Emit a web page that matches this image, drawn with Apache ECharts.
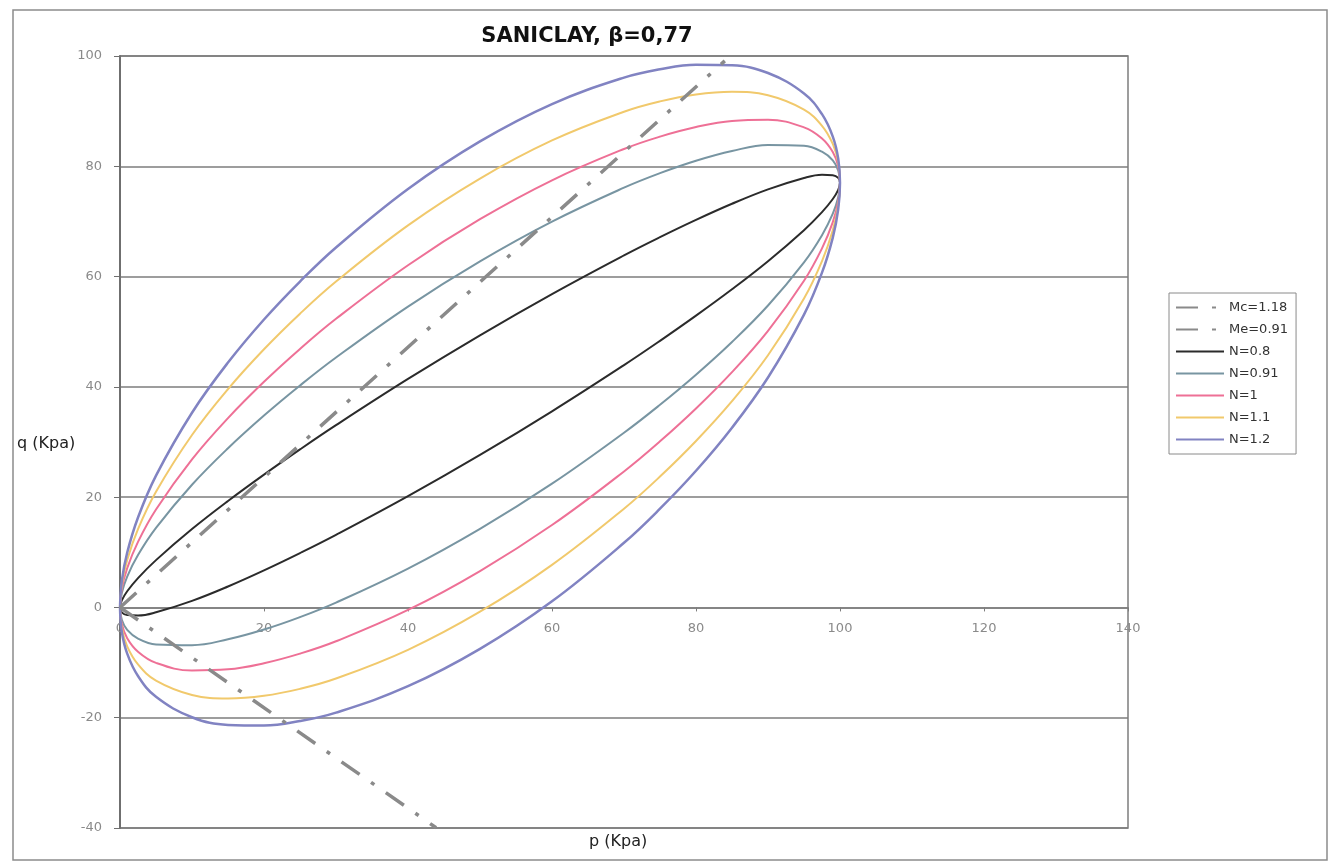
<!DOCTYPE html>
<html>
<head>
<meta charset="utf-8">
<title>SANICLAY yield surfaces</title>
<script src="https://cdn.jsdelivr.net/npm/echarts@6/dist/echarts.min.js"></script>
<style>
  html, body { margin: 0; padding: 0; background: #ffffff; }
  #chart { width: 1340px; height: 864px; }
</style>
</head>
<body>
<div id="chart"></div>
<script>
// Mean effective stress p (kPa) at which each yield surface is sampled
const pressure = [0, 0.25, 1, 2.5, 5, 10, 15, 20, 25, 30, 40, 50, 60, 70, 75, 80, 85, 90, 95, 97.5, 99, 99.75, 100];

// Deviatoric stress q (kPa): upper and lower branches of each surface
const upperN08  = [0, 1.27, 2.93, 5.32, 8.58, 14.21, 19.30, 24.08, 28.65, 33.05, 41.43, 49.35, 56.83, 63.85, 67.15, 70.28, 73.20, 75.81, 77.88, 78.47, 78.39, 77.89, 77];
const lowerN08  = [0, -0.89, -1.39, -1.46, -0.88, 1.19, 3.80, 6.72, 9.85, 13.15, 20.17, 27.65, 35.57, 43.95, 48.35, 52.92, 57.70, 62.79, 68.42, 71.69, 74.07, 75.73, 77];
const upperN091 = [0, 2.61, 5.60, 9.50, 14.42, 22.25, 28.87, 34.80, 40.25, 45.32, 54.56, 62.75, 69.96, 76.12, 78.75, 81.00, 82.77, 83.85, 83.72, 82.65, 81.06, 79.23, 77];
const lowerN091 = [0, -2.23, -4.06, -5.64, -6.72, -6.85, -5.77, -4.00, -1.75, 0.88, 7.04, 14.25, 22.44, 31.68, 36.75, 42.20, 48.13, 54.75, 62.58, 67.51, 71.40, 74.39, 77];
const upperN1   = [0, 3.38, 7.12, 11.89, 17.76, 26.84, 34.33, 40.92, 46.88, 52.34, 62.06, 70.40, 77.46, 83.14, 85.38, 87.12, 88.23, 88.44, 87.06, 85.04, 82.58, 80.00, 77];
const lowerN1   = [0, -3.00, -5.58, -8.03, -10.06, -11.44, -11.23, -10.12, -8.38, -6.14, -0.46, 6.60, 14.94, 24.66, 30.12, 36.08, 42.67, 50.16, 59.24, 65.12, 69.88, 73.62, 77];
const upperN11  = [0, 4.11, 8.59, 14.19, 20.97, 31.27, 39.60, 46.82, 53.27, 59.10, 69.29, 77.78, 84.69, 89.90, 91.77, 93.02, 93.50, 92.87, 90.27, 87.34, 84.05, 80.73, 77];
const lowerN11  = [0, -3.73, -7.05, -10.33, -13.27, -15.87, -16.50, -16.02, -14.77, -12.90, -7.69, -0.78, 7.71, 17.90, 23.73, 30.18, 37.40, 45.73, 56.03, 62.82, 68.41, 72.89, 77];
const upperN12  = [0, 4.79, 9.93, 16.30, 23.91, 35.31, 44.41, 52.22, 59.10, 65.28, 75.89, 84.52, 91.29, 96.08, 97.60, 98.42, 98.31, 96.91, 93.21, 89.45, 85.39, 81.41, 77];
const lowerN12  = [0, -4.41, -8.39, -12.44, -16.21, -19.91, -21.31, -21.42, -20.60, -19.08, -14.29, -7.52, 1.11, 11.72, 17.90, 24.78, 32.59, 41.69, 53.09, 60.71, 67.07, 72.21, 77];

// Critical state lines in compression and extension: [p, q] end points
const lineMc = [[0, 0], [84, 99.12]];
const lineMe = [[0, 0], [43.9, -39.95]];

// Axis ticks
const pTicks = [0, 20, 40, 60, 80, 100, 120, 140];
const qTicks = [-40, -20, 0, 20, 40, 60, 80, 100];

const surfaceNames  = ['N=0.8', 'N=0.91', 'N=1', 'N=1.1', 'N=1.2'];
const surfaceUpper  = [upperN08, upperN091, upperN1, upperN11, upperN12];
const surfaceLower  = [lowerN08, lowerN091, lowerN1, lowerN11, lowerN12];
const surfaceColors = ['#2b2b2b', '#7895a2', '#ee7096', '#f1c96c', '#8183c2'];
const surfaceWidths = [2, 2, 2, 2, 2.5];

// Closed loop: along the upper branch to p0, then back along the lower branch
function loop(upper, lower) {
  const pts = pressure.map((p, i) => [p, upper[i]]);
  for (let i = pressure.length - 2; i >= 0; i--) pts.push([pressure[i], lower[i]]);
  return pts;
}

const FONT = 'DejaVu Sans';
const dashDot = [22, 14, 4, 14];

const surfaceSeries = surfaceNames.map((name, k) => ({
  name: name,
  type: 'line',
  data: loop(surfaceUpper[k], surfaceLower[k]),
  smooth: 0.4,
  symbol: 'none',
  lineStyle: { color: surfaceColors[k], width: surfaceWidths[k] },
  itemStyle: { color: surfaceColors[k] },
  z: 2
}));

const csSeries = [
  { name: 'Mc=1.18', data: lineMc },
  { name: 'Me=0.91', data: lineMe }
].map(s => ({
  name: s.name,
  type: 'line',
  data: s.data,
  symbol: 'none',
  lineStyle: { color: '#8a8a8a', width: 3.5, type: dashDot },
  itemStyle: { color: '#8a8a8a' },
  z: 3
}));

const GRID_TOP = 56, GRID_BOTTOM = 36, CHART_H = 864;
// distance from the plot bottom up to q = 0, so the p labels sit under the zero line
const zeroOffset = -Math.round((CHART_H - GRID_BOTTOM - GRID_TOP) * (0 - qTicks[0]) / (qTicks[qTicks.length - 1] - qTicks[0]));

const chart = echarts.init(document.getElementById('chart'), null, { renderer: 'canvas' });

chart.setOption({
  backgroundColor: '#ffffff',
  animation: false,
  title: {
    text: 'SANICLAY, β=0,77',
    left: 582,
    top: 21,
    textAlign: 'center',
    textStyle: { fontFamily: FONT, fontSize: 21, fontWeight: 'bold', color: '#111' }
  },
  grid: {
    left: 120, right: 212, top: GRID_TOP, bottom: GRID_BOTTOM,
    show: true, borderColor: '#7d7d7d', borderWidth: 1.5, backgroundColor: 'transparent'
  },
  legend: {
    orient: 'vertical',
    left: 1169, top: 293,
    padding: [8, 8, 8, 6],
    itemGap: 9,
    itemWidth: 48, itemHeight: 14,
    borderColor: '#8a8a8a', borderWidth: 1,
    backgroundColor: '#ffffff',
    itemStyle: { opacity: 0 },
    textStyle: { fontFamily: FONT, fontSize: 13, color: '#333' },
    data: ['Mc=1.18', 'Me=0.91'].concat(surfaceNames)
  },
  xAxis: [
    {
      type: 'value',
      min: pTicks[0], max: pTicks[pTicks.length - 1], interval: 20,
      axisLine: { onZero: true, lineStyle: { color: '#7d7d7d', width: 1.5 } },
      axisTick: { show: true, length: 4, lineStyle: { color: '#7d7d7d' } },
      axisLabel: { show: false },
      splitLine: { show: false }
    },
    {
      // tick labels of p, placed just below the q = 0 line
      type: 'value',
      position: 'bottom',
      offset: zeroOffset,
      min: pTicks[0], max: pTicks[pTicks.length - 1], interval: 20,
      axisLine: { show: false, onZero: false },
      axisTick: { show: false },
      axisLabel: { margin: 15, fontFamily: FONT, fontSize: 13, color: '#8a8a8a' },
      splitLine: { show: false }
    }
  ],
  yAxis: {
    type: 'value',
    min: qTicks[0], max: qTicks[qTicks.length - 1], interval: 20,
    axisLine: { show: true, onZero: false, lineStyle: { color: '#6f6f6f', width: 2 } },
    axisTick: { show: true, length: 6, lineStyle: { color: '#6f6f6f' } },
    axisLabel: { margin: 18, fontFamily: FONT, fontSize: 13, color: '#8a8a8a' },
    splitLine: { show: true, lineStyle: { color: '#7d7d7d', width: 1.5 } }
  },
  graphic: [
    {
      type: 'rect', silent: true, z: -1,
      shape: { x: 13, y: 10, width: 1314, height: 850 },
      style: { fill: 'none', stroke: '#8c8c8c', lineWidth: 1.5 }
    },
    {
      type: 'text', left: 17, top: 436,
      style: { text: 'q (Kpa)', font: '16px "DejaVu Sans"', fill: '#222' }
    },
    {
      type: 'text', left: 589, top: 834,
      style: { text: 'p (Kpa)', font: '16px "DejaVu Sans"', fill: '#222' }
    }
  ],
  series: surfaceSeries.concat(csSeries)
});
</script>
</body>
</html>
